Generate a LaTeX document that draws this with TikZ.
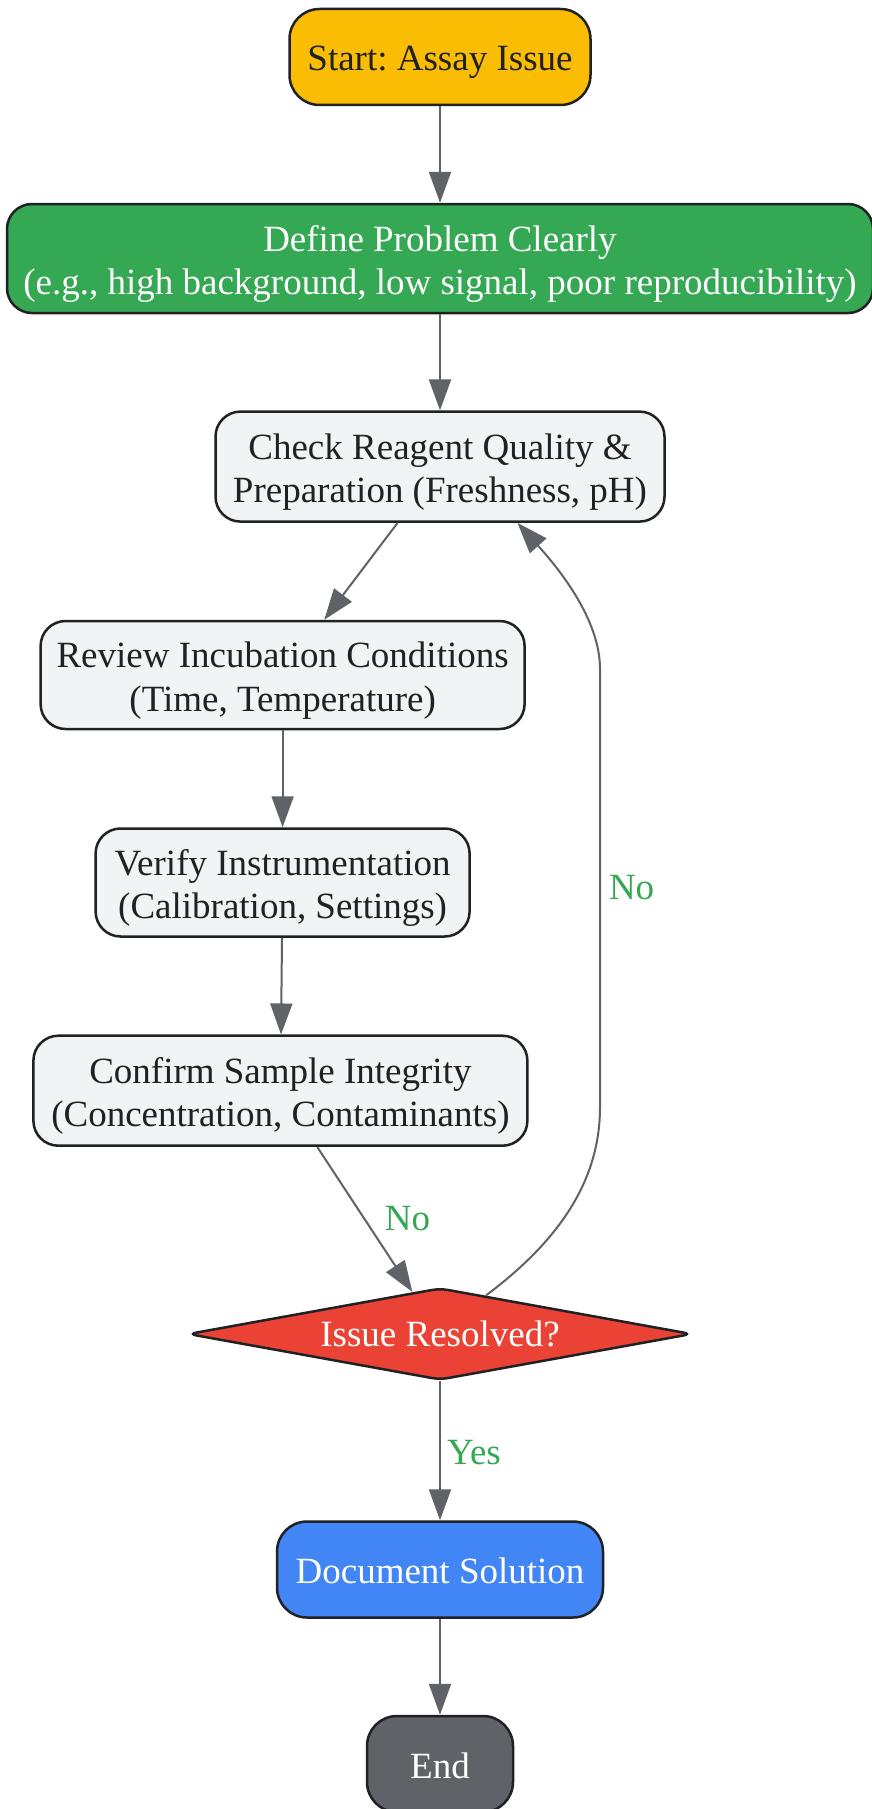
\documentclass[tikz,border=0pt]{standalone}
\usepackage{fontspec}
\setmainfont{Liberation Serif}
\frenchspacing
\usetikzlibrary{shapes.geometric,arrows.meta}
\definecolor{cyellow}{HTML}{FBBC04}
\definecolor{cgreen}{HTML}{34A853}
\definecolor{cgray}{HTML}{F1F3F4}
\definecolor{cred}{HTML}{EA4335}
\definecolor{cblue}{HTML}{4285F4}
\definecolor{cdark}{HTML}{5F6368}
\definecolor{cborder}{HTML}{202124}
\definecolor{cedge}{HTML}{5F6368}
\newcommand{\topstrut}{\rule{0pt}{38pt}}
\newcommand{\mtopstrut}{\rule{0pt}{39pt}}
\newcommand{\botstrut}{\rule[-10pt]{0pt}{10pt}}
\begin{document}
\begin{tikzpicture}[x=1pt,y=-1pt,
  box/.style={draw=cborder, line width=2.5pt, rounded corners=25pt, align=center,
    inner sep=0pt, font=\fontsize{37}{43.5}\selectfont, text=cborder,
    execute at begin node=\topstrut, execute at end node=\botstrut},
  term/.style={box, rounded corners=30pt},
  procbox/.style={box, fill=cgray},
  decision/.style={diamond, draw=cborder, line width=2.5pt, rounded corners=8pt,
    fill=cred, text=white, aspect=5.5, inner sep=0pt, minimum width=504pt,
    minimum height=92pt, font=\fontsize{37}{43.5}\selectfont},
  edge/.style={draw=cedge, line width=2pt, -{Triangle[length=31pt,width=22pt]}},
  lbl/.style={text=cgreen, font=\fontsize{37}{43.5}\selectfont, inner sep=0pt,
    execute at begin node=\topstrut, execute at end node=\botstrut}]
\useasboundingbox (0,0) rectangle (871,1809);
\fill[white] (0,0) rectangle (871,1809);

\node[term, fill=cyellow, minimum width=301pt, minimum height=96pt] (start) at (440,57) {Start: Assay Issue};
\node[box, fill=cgreen, text=white, minimum width=866pt, minimum height=109pt] (define) at (440,258.5)
  {\mtopstrut Define Problem Clearly\\(e.g., high background, low signal, poor reproducibility)\botstrut};
\node[procbox, minimum width=449pt, minimum height=110pt] (check) at (440,466.6)
  {\mtopstrut Check Reagent Quality \&\\Preparation (Freshness, pH)\botstrut};
\node[procbox, minimum width=484pt, minimum height=108pt] (review) at (282.6,675)
  {\mtopstrut Review Incubation Conditions\\(Time, Temperature)\botstrut};
\node[procbox, minimum width=374pt, minimum height=108pt] (verify) at (282.6,882.5)
  {\mtopstrut Verify Instrumentation\\(Calibration, Settings)\botstrut};
\node[procbox, minimum width=494pt, minimum height=110pt] (confirm) at (280.4,1090.7)
  {\mtopstrut Confirm Sample Integrity\\(Concentration, Contaminants)\botstrut};
\node[decision] (dec) at (440,1334) {Issue Resolved?};
\node[term, fill=cblue, text=white, minimum width=326pt, minimum height=96pt] (doc) at (440,1569.5) {Document Solution};
\node[term, fill=cdark, text=white, minimum width=146pt, minimum height=96pt] (end) at (440,1764) {End};

\coordinate (loopA) at (600,1107);
\coordinate (loopB) at (600,669);

\draw[edge] (start) -- (define);
\draw[edge] (define) -- (check);
\draw[edge] (check) -- (review);
\draw[edge] (review) -- (verify);
\draw[edge] (verify) -- (confirm);
\draw[edge] (confirm) -- node[lbl, midway, right, xshift=19pt, yshift=3pt] {No} (dec);
\draw[edge] (dec.40) .. controls (560,1240) and (600,1180) .. (loopA)
  -- node[lbl, midway, right, xshift=8pt, yshift=3pt] {No} (loopB)
  .. controls (600,620) and (560,570) .. (check.-36);
\draw[edge] (dec) -- node[lbl, midway, right, xshift=6pt] {Yes} (doc);
\draw[edge] (doc) -- (end);
\end{tikzpicture}
\end{document}
